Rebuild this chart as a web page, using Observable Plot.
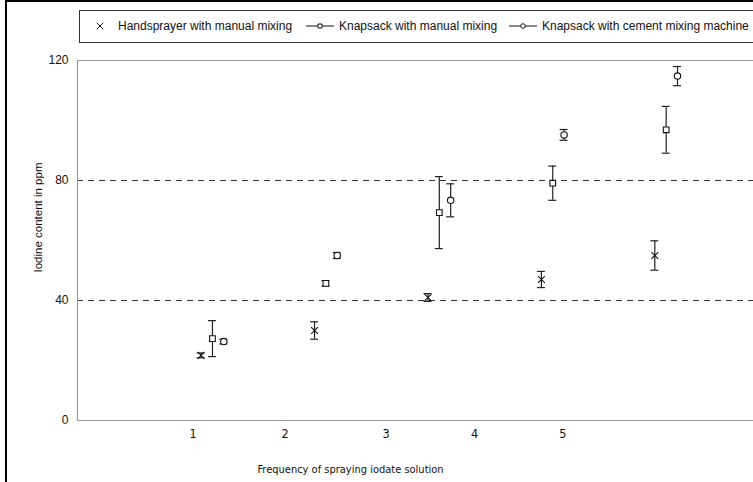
<!DOCTYPE html>
<html>
<head>
<meta charset="utf-8">
<script src="https://cdn.jsdelivr.net/npm/d3@7"></script>
<script src="https://cdn.jsdelivr.net/npm/@observablehq/plot@0.6"></script>
<style>
  html, body { margin: 0; padding: 0; background: #fff; }
  body { width: 753px; height: 482px; position: relative; overflow: hidden; font-family: "Liberation Sans", Arial, sans-serif; }
  #frame { position: absolute; left: 5px; top: 0px; width: 760px; height: 490px; border-left: 2px solid #000; border-top: 2px solid #000; }
  #legend { position: absolute; left: 79px; top: 10px; width: 690px; height: 31px; border: 1px solid #333; font-size: 12px; color: #111; }
  .item { position: absolute; top: 8px; display: flex; align-items: center; white-space: nowrap; }
  #chart { position: absolute; left: 0; top: 45px; }
</style>
</head>
<body>
<div id="frame"></div>
<div id="legend"></div>
<div id="chart"></div>
<script>
const series = ["Handsprayer with manual mixing", "Knapsack with manual mixing", "Knapsack with cement mixing machine"];
const frequency = [1, 2, 3, 4, 5];
const handMean = [21.7, 30, 41, 47, 55];
const handErr = [0.8, 2.9, 1.3, 2.7, 4.9];
const knapMean = [27.3, 45.7, 69.3, 79.1, 96.9];
const knapErr = [6, 0.9, 12, 5.7, 7.8];
const cementMean = [26.3, 55, 73.4, 95.2, 114.8];
const cementErr = [0.8, 1, 5.5, 1.8, 3.2];
const xTickLabels = ["1", "2", "3", "4", "5"];
const yTicks = [0, 40, 80, 120];
const gridValues = [40, 80];

// the original's category labels sit left of the point clusters
const xTickAt = [0.83, 1.64, 2.53, 3.31, 4.09];
const xDomain = [-0.19, 5.77];
const yDomain = [0, 120];
const dodge = [-0.1, 0, 0.1];
const symbols = ["times", "square", "circle"];
const means = [handMean, knapMean, cementMean];
const errs = [handErr, knapErr, cementErr];

const data = [];
series.forEach((s, si) => {
  frequency.forEach((f, i) => {
    data.push({series: s, si, x: f + dodge[si], mean: means[si][i], err: errs[si][i]});
  });
});

const narrow = "'Liberation Sans Narrow', 'DejaVu Sans Condensed', 'Liberation Sans', Arial, sans-serif";
const capW = 0.035;
const plot = Plot.plot({
  width: 753,
  height: 437,
  marginLeft: 77,
  marginRight: 0,
  marginTop: 15,
  marginBottom: 62,
  style: {fontFamily: "'Liberation Sans', Arial, sans-serif", fontSize: "12px", color: "#111", background: "transparent"},
  x: {domain: xDomain, axis: null},
  y: {domain: yDomain, axis: null},
  symbol: {domain: series, range: symbols},
  marks: [
    Plot.ruleY(gridValues, {stroke: "#333", strokeDasharray: "6,5", strokeWidth: 1}),
    Plot.ruleY(yDomain, {stroke: "#999", strokeWidth: 1.2}),
    Plot.ruleX([xDomain[0]], {stroke: "#999", strokeWidth: 1.2}),
    Plot.ruleX(data, {x: "x", y1: d => d.mean - d.err, y2: d => d.mean + d.err, stroke: "#222", strokeWidth: 1.2}),
    Plot.ruleY(data, {y: d => d.mean + d.err, x1: d => d.x - capW, x2: d => d.x + capW, stroke: "#222", strokeWidth: 1.2}),
    Plot.ruleY(data, {y: d => d.mean - d.err, x1: d => d.x - capW, x2: d => d.x + capW, stroke: "#222", strokeWidth: 1.2}),
    Plot.dot(data, {x: "x", y: "mean", symbol: "series", r: 3.2, stroke: "#111", fill: d => d.si === 0 ? "none" : "white", strokeWidth: 1.1}),
    Plot.axisY(yTicks, {tickSize: 0, tickPadding: 9, fontSize: 12, label: null}),
    Plot.axisX(xTickAt, {tickSize: 0, tickPadding: 9, tickFormat: (d, i) => xTickLabels[i], fontSize: 12.5, fontFamily: narrow, label: null}),
    Plot.text(["Frequency of spraying iodate solution"], {frameAnchor: "bottom", dx: -65, dy: 52, fontSize: 11, fontFamily: narrow, fill: "#111"}),
    Plot.text(["Iodine content in ppm"], {frameAnchor: "left", textAnchor: "middle", dx: -39, dy: -23, rotate: -90, fontSize: 11.5, fill: "#111", letterSpacing: "0.6px"})
  ]
});
document.getElementById("chart").appendChild(plot);

// legend
const legend = document.getElementById("legend");
const itemLeft = [15, 226, 429];
series.forEach((s, si) => {
  const div = document.createElement("div");
  div.className = "item";
  div.style.left = itemLeft[si] + "px";
  const ns = "http://www.w3.org/2000/svg";
  const svg = document.createElementNS(ns, "svg");
  const w = si === 0 ? 14 : 28;
  svg.setAttribute("width", w); svg.setAttribute("height", 12);
  svg.style.marginRight = si === 0 ? "9px" : "5px";
  if (si > 0) {
    const ln = document.createElementNS(ns, "line");
    ln.setAttribute("x1", 0); ln.setAttribute("x2", w); ln.setAttribute("y1", 6); ln.setAttribute("y2", 6);
    ln.setAttribute("stroke", "#111"); svg.appendChild(ln);
  }
  const sym = d3.symbol(si === 0 ? d3.symbolTimes : si === 1 ? d3.symbolSquare : d3.symbolCircle, si === 0 ? 28 : 16)();
  const p = document.createElementNS(ns, "path");
  p.setAttribute("d", sym);
  p.setAttribute("transform", `translate(${si === 0 ? 5 : w / 2},6)`);
  p.setAttribute("fill", si === 0 ? "none" : "white");
  p.setAttribute("stroke", "#111");
  p.setAttribute("stroke-width", 1);
  svg.appendChild(p);
  div.appendChild(svg);
  const t = document.createElement("span");
  t.textContent = s;
  div.appendChild(t);
  legend.appendChild(div);
});
</script>
</body>
</html>
